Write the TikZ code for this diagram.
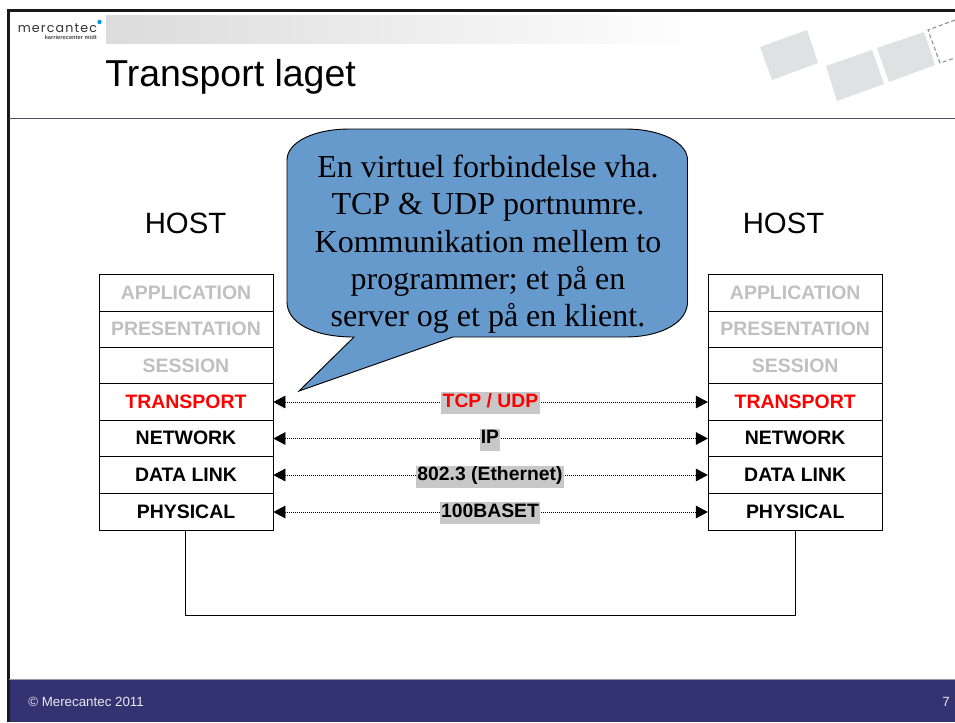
\documentclass[tikz,border=0pt]{standalone}
\usepackage{fontspec}
\setmainfont{Liberation Sans}
\newfontfamily\serifcall{Liberation Serif}
\newfontfamily\logofont[LetterSpace=9]{Poppins}
\usetikzlibrary{arrows.meta,shadings}
\definecolor{footblue}{HTML}{333372}
\definecolor{callblue}{HTML}{6699CC}
\definecolor{ghost}{HTML}{C0C0C0}
\definecolor{laybg}{HTML}{C8C8C8}
\definecolor{decor}{HTML}{DFE1E3}
\definecolor{rulecol}{HTML}{50506A}
\tikzset{
  x=0.75pt,y=-0.75pt,
  layer/.style={draw=black,line width=0.6pt,fill=white,minimum width=130.5pt,minimum height=27.3pt,inner sep=0pt,font=\fontsize{14.6}{16}\selectfont\bfseries,text height=10.5pt,text depth=1.5pt},
  hosttext/.style={font=\fontsize{22}{24}\selectfont,inner sep=0pt},
  proto/.style={fill=laybg,inner sep=1pt,font=\fontsize{14.5}{16}\selectfont\bfseries,text height=10.5pt,text depth=4pt},
  link/.style={line width=0.5pt,densely dotted,{Triangle[length=9pt,width=9.5pt]}-{Triangle[length=9pt,width=9.5pt]}},
  decoshape/.style={fill=decor,draw=none},
}
\begin{document}
\begin{tikzpicture}
\useasboundingbox (0,0) rectangle (955,722);
\fill[white] (0,0) rectangle (955,722);
% frame and bands
\fill[footblue] (9,680) rectangle (955,722);
\draw[line width=1.9pt,black!90] (8.5,722) -- (8.5,10.5) -- (955,10.5);
\draw[line width=0.8pt,rulecol] (9,118.3) -- (955,118.3);
\draw[line width=0.5pt,rulecol!60] (9,679.7) -- (955,679.7);
\shade[left color=black!14,right color=white] (106,15.5) rectangle (705,43);
% logo
\node[inner sep=0pt,anchor=base west,text=black!80,font=\logofont\fontsize{9.5}{10}\selectfont] (logo) at (17.5,32) {mercantec};
\node[inner sep=0pt,anchor=base east,font=\fontsize{4.3}{5}\selectfont\bfseries,text=black!70] (logosub) at (97,39.5) {karrierecenter midt};
\fill[cyan!80!blue] (99.5,22) circle (2.2);
% title
\node[inner sep=0pt,anchor=base west,font=\fontsize{28.1}{32}\selectfont] (title) at (105,86.5) {Transport laget};
% decoration
\fill[decoshape] (760,47) -- (807,30) -- (818,63) -- (772,80) -- cycle;
\fill[decoshape] (826,66) -- (872,50) -- (884,84) -- (837,101) -- cycle;
\fill[decoshape] (877,48) -- (924,32) -- (935,65) -- (889,82) -- cycle;
\draw[black!45,line width=0.8pt,densely dashed] (955,20) -- (928,30) -- (940,63) -- (955,58);
% hosts
\node[hosttext] (hostl) at (185.5,223.5) {HOST};
\node[hosttext] (hostr) at (783.5,223.5) {HOST};
% left stack
\node[layer,text=ghost] (la) at (186,293) {APPLICATION};
\node[layer,text=ghost] (lp) at (186,329.5) {PRESENTATION};
\node[layer,text=ghost] (ls) at (186,366) {SESSION};
\node[layer,text=red] (lt) at (186,402) {TRANSPORT};
\node[layer] (ln) at (186,438.5) {NETWORK};
\node[layer] (ld) at (186,475) {DATA LINK};
\node[layer] (lh) at (186,512) {PHYSICAL};
% right stack
\node[layer,text=ghost] (ra) at (795.2,293) {APPLICATION};
\node[layer,text=ghost] (rp) at (795.2,329.5) {PRESENTATION};
\node[layer,text=ghost] (rs) at (795.2,366) {SESSION};
\node[layer,text=red] (rt) at (795.2,402) {TRANSPORT};
\node[layer] (rn) at (795.2,438.5) {NETWORK};
\node[layer] (rd) at (795.2,475) {DATA LINK};
\node[layer] (rh) at (795.2,512) {PHYSICAL};
% links
\draw[link] (lt.east) -- (rt.west);
\draw[link] (ln.east) -- (rn.west);
\draw[link] (ld.east) -- (rd.west);
\draw[link] (lh.east) -- (rh.west);
\node[proto,text=red] (p1) at (490.5,403) {TCP / UDP};
\node[proto] (p2) at (490,439.5) {IP};
\node[proto] (p3) at (490,476.5) {802.3 (Ethernet)};
\node[proto] (p4) at (490,513) {100BASET};
% cable
\coordinate (cs) at ([xshift=-0.6pt]lh.south);
\coordinate (cl) at (cs |- 0,615);
\coordinate (cr) at (rh.south |- 0,615);
\draw[line width=0.6pt] (cs) -- (cl) -- (cr) -- (rh.south);
% callout
\draw[fill=callblue,draw=black,line width=0.7pt]
  (299,391) -- (354,337) .. controls (312,337) and (287,322) .. (287,302)
  -- (287,160) .. controls (287,143) and (312,129) .. (350,129)
  -- (625,129) .. controls (662,129) and (687.5,143) .. (687.5,160)
  -- (687.5,302) .. controls (687.5,322) and (662,337) .. (625,337)
  -- (453,337) -- cycle;
\node[inner sep=0pt,align=center,font=\serifcall\fontsize{24}{27.9}\selectfont] (calltext) at (488,244.3) {En virtuel forbindelse vha.\\TCP \& UDP portnumre.\\Kommunikation mellem to\\programmer; et på en\\server og et på en klient.};
% footer
\node[inner sep=0pt,anchor=base west,text=white!88!footblue,font=\fontsize{10}{12}\selectfont] (foot) at (28,706) {© Merecantec 2011};
\node[inner sep=0pt,anchor=base east,text=white!88!footblue,font=\fontsize{10}{12}\selectfont] (pg) at (950,706) {7};
\end{tikzpicture}
\end{document}
